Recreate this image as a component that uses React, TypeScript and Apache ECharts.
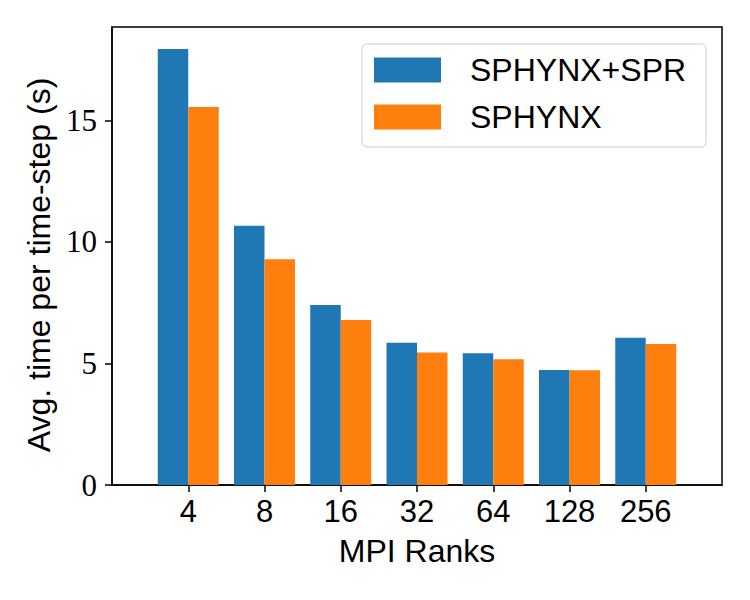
import React, { useEffect, useRef } from "react";
import * as echarts from "echarts";

const ranks = ["4", "8", "16", "32", "64", "128", "256"];
const positions = [1, 2, 3, 4, 5, 6, 7];
const sphynxSpr = [17.94, 10.66, 7.4, 5.85, 5.42, 4.73, 6.06];
const sphynx = [15.55, 9.29, 6.79, 5.45, 5.17, 4.72, 5.8];
const yTicks = [0, 5, 10, 15];

export default function App() {
  const ref = useRef<HTMLDivElement>(null);
  useEffect(() => {
    if (!ref.current) return;
    const chart = echarts.init(ref.current, null, { renderer: "svg" });
    const sans = "Liberation Sans";
    chart.setOption({
      animation: false,
      backgroundColor: "#ffffff",
      grid: {
        left: 112,
        right: 28,
        top: 27,
        bottom: 115,
        show: true,
        borderColor: "#000",
        borderWidth: 1.5,
        backgroundColor: "transparent",
      },
      legend: {
        orient: "vertical",
        left: 362,
        top: 44,
        itemWidth: 67,
        itemHeight: 25,
        itemGap: 15,
        icon: "rect",
        padding: [10, 20, 14, 12],
        backgroundColor: "#fff",
        borderColor: "#cccccc",
        borderWidth: 1,
        borderRadius: 5,
        textStyle: {
          fontFamily: sans,
          fontSize: 32,
          lineHeight: 32,
          color: "#000",
          padding: [0, 0, 0, 24],
        },
        data: ["SPHYNX+SPR", "SPHYNX"],
      },
      xAxis: {
        type: "value",
        min: 0,
        max: 8,
        interval: 1,
        name: "MPI Ranks",
        nameLocation: "middle",
        nameGap: 50,
        nameTextStyle: { fontFamily: sans, fontSize: 32, color: "#000" },
        axisLine: { lineStyle: { color: "#000", width: 1.5 } },
        axisTick: {
          show: true,
          length: 7,
          lineStyle: { color: "#000", width: 1.5 },
          customValues: positions,
        },
        axisLabel: {
          fontFamily: sans,
          fontSize: 31,
          color: "#000",
          margin: 11,
          customValues: positions,
          formatter: (v: number) => ranks[Math.round(v) - 1] ?? "",
        },
        splitLine: { show: false },
      },
      yAxis: {
        type: "value",
        min: 0,
        max: 18.84,
        interval: 5,
        name: "Avg. time per time-step (s)",
        nameLocation: "middle",
        nameGap: 56,
        nameRotate: 90,
        nameTextStyle: {
          fontFamily: sans,
          fontSize: 32,
          color: "#000",
          padding: [0, 18, 0, 0],
        },
        axisLine: { show: true, lineStyle: { color: "#000", width: 1.5 } },
        axisTick: {
          show: true,
          length: 7,
          lineStyle: { color: "#000", width: 1.5 },
          customValues: yTicks,
        },
        axisLabel: {
          fontFamily: "Liberation Serif",
          fontSize: 31,
          color: "#000",
          margin: 15,
          customValues: yTicks,
        },
        splitLine: { show: false },
      },
      series: [
        {
          name: "SPHYNX+SPR",
          type: "bar",
          barWidth: 30.5,
          barGap: "0%",
          itemStyle: { color: "#1f77b4" },
          data: positions.map((p, i) => [p, sphynxSpr[i]]),
        },
        {
          name: "SPHYNX",
          type: "bar",
          barWidth: 30.5,
          barGap: "0%",
          itemStyle: { color: "#ff7f0e" },
          data: positions.map((p, i) => [p, sphynx[i]]),
        },
      ],
    });
    return () => chart.dispose();
  }, []);
  return <div ref={ref} style={{ width: 750, height: 600, margin: -8 }} />;
}
